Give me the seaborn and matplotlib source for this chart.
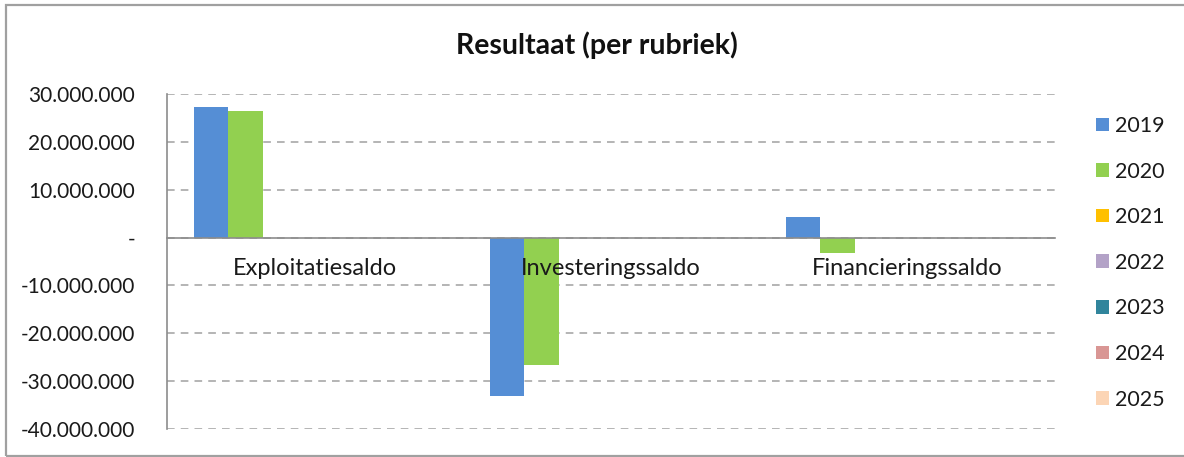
import numpy as np
import pandas as pd
import matplotlib
matplotlib.use("Agg")
import matplotlib.pyplot as plt
import seaborn as sns
from matplotlib.ticker import FuncFormatter, FixedLocator
from matplotlib.patches import Rectangle

categories = ["Exploitatiesaldo", "Investeringssaldo", "Financieringssaldo"]
years = ["2019", "2020", "2021", "2022", "2023", "2024", "2025"]
v2019 = [27_200_000, -33_000_000, 4_400_000]
v2020 = [26_500_000, -26_600_000, -3_300_000]
v2021 = [0, 0, 0]
v2022 = [0, 0, 0]
v2023 = [0, 0, 0]
v2024 = [0, 0, 0]
v2025 = [0, 0, 0]
colors = ["#558ED5", "#92D050", "#FFC000", "#B3A2C7", "#31859C", "#D99694", "#FCD5B5"]
yticks = [-40_000_000, -30_000_000, -20_000_000, -10_000_000, 0,
          10_000_000, 20_000_000, 30_000_000]
title = "Resultaat (per rubriek)"

series = [v2019, v2020, v2021, v2022, v2023, v2024, v2025]
rows = []
for y, vals in zip(years, series):
    for c, v in zip(categories, vals):
        rows.append({"rubriek": c, "jaar": y, "waarde": v})
df = pd.DataFrame(rows)

sns.set_style("white")
plt.rcParams["font.family"] = ["Lato", "DejaVu Sans"]

fig = plt.figure(figsize=(11.84, 4.57), dpi=100)
ax = fig.add_axes([167 / 1184, 1 - 429 / 457, (1055 - 167) / 1184, (429 - 94) / 457])

sns.barplot(data=df, x="rubriek", y="waarde", hue="jaar", order=categories,
            hue_order=years, palette=colors, width=0.82, linewidth=0,
            saturation=1, errorbar=None, ax=ax)

ax.set_ylim(-40_000_000, 30_000_000)
ax.set_xlim(-0.5, len(categories) - 0.5)
ax.yaxis.set_major_locator(FixedLocator(yticks))


def fmt(v, pos):
    if abs(v) < 1:
        return "-"
    return f"{int(round(v)):,}".replace(",", ".")


ax.yaxis.set_major_formatter(FuncFormatter(fmt))
ax.set_xlabel("")
ax.set_ylabel("")

gray = "#8C8C8C"
for s in ["top", "right"]:
    ax.spines[s].set_visible(False)
ax.spines["left"].set_color(gray)
ax.spines["bottom"].set_color(gray)
ax.spines["left"].set_linewidth(1.2)
ax.spines["bottom"].set_linewidth(1.2)
ax.spines["bottom"].set_position(("data", 0))
ax.spines["bottom"].set_zorder(5)

ax.yaxis.grid(True, linestyle=(0, (5, 4)), color="#A0A0A0", linewidth=1.1)
ax.set_axisbelow(True)
ax.xaxis.set_zorder(6)

ax.tick_params(axis="y", direction="out", length=7, color=gray, width=1.2,
               labelsize=15, labelcolor="#1a1a1a", pad=16)
ax.set_xticks(range(len(categories)))
ax.set_xticklabels(categories)
ax.xaxis.set_minor_locator(FixedLocator([0.5, 1.5, 2.5]))
ax.tick_params(axis="x", which="major", length=0, labelsize=17, pad=15,
               labelcolor="#1a1a1a")
ax.tick_params(axis="x", which="minor", direction="out", length=5, color=gray, width=1.2)

fig.text(597 / 1184, 1 - 45 / 457, title, ha="center", va="center",
         fontsize=20.5, fontweight="bold", color="#111111")

handles, labels = ax.get_legend_handles_labels()
ax.get_legend().remove()
fig.legend(handles, labels, loc="upper left", frameon=False,
           bbox_to_anchor=(1096 / 1184, 1 - 116 / 457), fontsize=15.5,
           handlelength=0.6, handleheight=0.6, handletextpad=0.3,
           labelspacing=1.19, borderpad=0, borderaxespad=0,
           labelcolor="#1a1a1a")

fig.patches.append(Rectangle((6 / 1184, 1.5 / 457), 1190 / 1184, 450.5 / 457,
                             transform=fig.transFigure, fill=False,
                             edgecolor="#A0A0A0", linewidth=1.6))

fig.savefig("out.png", dpi=100)
